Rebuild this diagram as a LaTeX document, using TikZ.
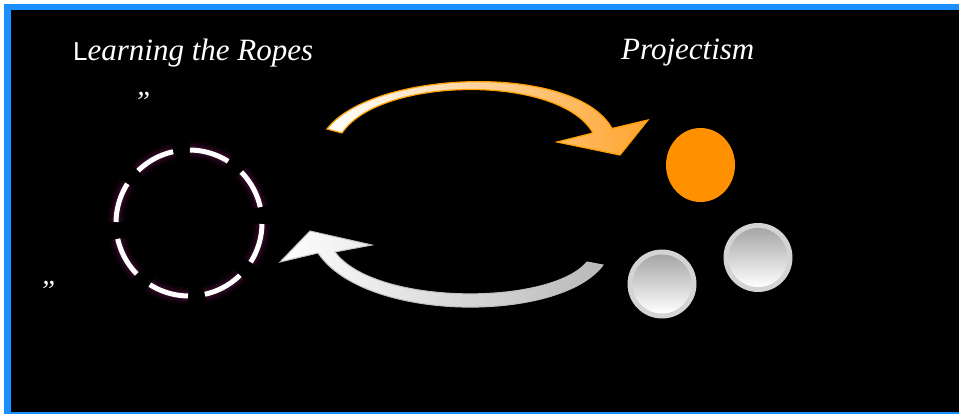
\documentclass[tikz,border=0pt]{standalone}
\usepackage{fontspec}
\setmainfont{Liberation Serif}
\newfontfamily\titleserif{Liberation Serif}
\newfontfamily\capsans{Liberation Sans}
\usetikzlibrary{shapes.geometric}
\definecolor{frameblue}{HTML}{1A8FFF}
\definecolor{dotorange}{HTML}{FF9000}
\definecolor{arroworange}{HTML}{FFA42E}
\definecolor{arrowedge}{HTML}{FFA000}
\definecolor{ringgrey}{HTML}{D4D4D4}
\definecolor{buttontop}{HTML}{A6A6A6}
\definecolor{glowpink}{HTML}{4A0E3A}
\begin{document}
\begin{tikzpicture}[x=1pt,y=-1pt,
  caption/.style={text=white, inner sep=0pt, font=\titleserif\fontsize{31}{31}\selectfont\itshape},
  quotemark/.style={text=white, inner sep=0pt, font=\titleserif\fontsize{29}{29}\selectfont\itshape},
  dashring/.style={circle, minimum size=146pt, inner sep=0pt,
    dash pattern=on 40.33pt off 17pt, dash phase=41.3pt},
  button/.style={circle, minimum size=69pt, inner sep=0pt, fill=ringgrey},
  buttonface/.style={circle, minimum size=59pt, inner sep=0pt,
    top color=buttontop, bottom color=white},
  toparrow/.style={draw=arrowedge, line width=1.2pt, line join=miter,
    left color=white, middle color=white!85!arroworange, right color=arroworange},
  bottomarrow/.style={draw=ringgrey!90!black, line width=1pt, line join=miter,
    left color=white, right color=gray!55}]
\useasboundingbox (0,0) rectangle (959,414);

% frame: white margin, blue border, black field
\fill[white] (0,0) rectangle (959,414);
\fill[frameblue] (4,4) rectangle (959,414);
\fill[black] (11,10) rectangle (959,412);

% titles and quote marks
\node[caption, anchor=base west] (ropes) at (73,60.5)
  {{\capsans\upshape\fontsize{26}{26}\selectfont L}earning the Ropes};
\node[caption, anchor=base west] (projt) at (621,60) {Projectism};
\node[quotemark, anchor=north west] (q1) at (134,92) {”};
\node[quotemark, anchor=north west] (q2) at (39,281) {”};

% softly glowing dashed ring
\node[dashring, draw=glowpink, draw opacity=0.18, line width=17pt] (loopglowa) at (189,223) {};
\node[dashring, draw=glowpink, draw opacity=0.25, line width=12pt] (loopglowb) at (189,223) {};
\node[dashring, draw=glowpink, draw opacity=0.35, line width=8pt] (loopglowc) at (189,223) {};
\node[dashring, draw=white, line width=5pt] (loop) at (189,223) {};

% orange target and grey buttons
\node[ellipse, fill=dotorange, minimum width=69pt, minimum height=74pt, inner sep=0pt] (proj) at (700.5,165) {};
\node[button] (btna) at (662,284) {};
\node[buttonface] (btnaface) at (btna) {};
\node[button] (btnb) at (758,257.5) {};
\node[buttonface] (btnbface) at (btnb) {};

% curved block arrows
\draw[toparrow] (327,129) .. controls (372,70) and (575,62) .. (612,128.5)
  -- (648,120) -- (620,155) -- (557,142) -- (593,133)
  .. controls (560,74) and (380,76) .. (342,133) -- cycle;
\draw[bottomarrow] (603,265) .. controls (560,323) and (365,323) .. (318,253)
  -- (280,262) -- (310,231) -- (372,245) -- (335,252)
  .. controls (375,306) and (550,306) .. (587,262) -- cycle;
\end{tikzpicture}
\end{document}
